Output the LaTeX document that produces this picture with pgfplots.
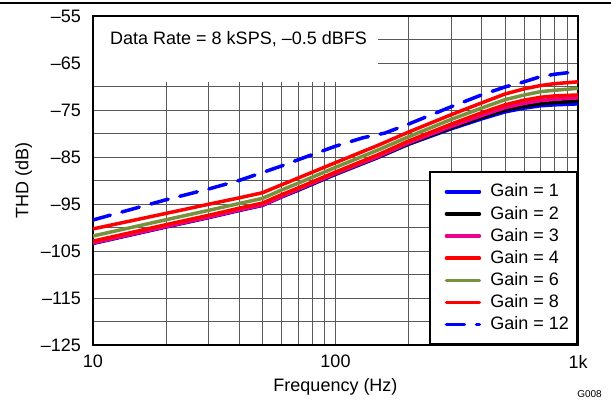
\documentclass[border=0pt]{standalone}
\usepackage{pgfplots}
\pgfplotsset{compat=1.18}
\usepackage{fontspec}
\setmainfont{Liberation Sans}
\definecolor{olivegreen}{RGB}{118,146,60}
\begin{document}
\fontsize{18bp}{21bp}\selectfont
\begin{tikzpicture}
\useasboundingbox (-93bp,-56bp) rectangle (518bp,345bp);
\begin{axis}[
  scale only axis, width=485bp, height=329bp,
  xmode=log, xmin=10, xmax=1000, ymin=-125, ymax=-55,
  xtick={10,100,1000}, xticklabels={10,100,1k},
  minor xtick={20,30,40,50,60,70,80,90,200,300,400,500,600,700,800,900},
  ytick={-125,-115,-105,-95,-85,-75,-65,-55},
  yticklabels={–125,–115,–105,–95,–85,–75,–65,–55},
  minor ytick={-120,-110,-100,-90,-80,-70,-60},
  grid=both,
  major grid style={black!65, line width=0.8bp},
  minor grid style={black!65, line width=0.8bp},
  major tick length=0pt, minor tick length=0pt,
  axis line style={line width=2.5bp},
  tick label style={font=\fontsize{18bp}{21bp}\selectfont},
  xticklabel style={inner sep=0pt, yshift=-10bp},
  yticklabel style={inner sep=0pt, xshift=-12bp},
  every axis plot/.append style={line width=3.5bp, line cap=round, line join=round},
  legend cell align=left,
  legend style={at={(rel axis cs:1,0)}, anchor=south east, draw=black, line width=2bp,
    fill=white, font=\fontsize{18bp}{21bp}\selectfont, row sep=6.4bp,
    inner xsep=8bp, inner ysep=11.5bp, nodes={inner sep=0pt}},
  legend image code/.code={\path[draw=none] (0bp,0bp) -- (52bp,0bp); \draw[#1] (8bp,0bp) -- (41bp,0bp);},
]
\addplot[blue] coordinates {(10,-103.4) (20,-99.9) (30,-97.9) (40,-96.4) (50,-95.3) (60,-93.5) (70,-92.1) (100,-88.7) (150,-85.1) (200,-82.3) (300,-79.0) (400,-76.9) (500,-75.4) (600,-74.6) (700,-74.1) (800,-73.9) (1000,-73.7)};
\addlegendentry{Gain = 1}
\addplot[black] coordinates {(10,-103.3) (20,-99.8) (30,-97.8) (40,-96.3) (50,-95.2) (60,-93.4) (70,-92.0) (100,-88.6) (150,-85.0) (200,-82.2) (300,-78.8) (400,-76.6) (500,-75.0) (600,-74.2) (700,-73.7) (800,-73.4) (1000,-73.1)};
\addlegendentry{Gain = 2}
\addplot[magenta] coordinates {(10,-103.3) (20,-99.8) (30,-97.8) (40,-96.3) (50,-95.2) (60,-93.4) (70,-91.9) (100,-88.5) (150,-84.9) (200,-82.0) (300,-78.5) (400,-76.2) (500,-74.5) (600,-73.6) (700,-73.0) (800,-72.7) (1000,-72.4)};
\addlegendentry{Gain = 3}
\addplot[red] coordinates {(10,-102.9) (20,-99.4) (30,-97.4) (40,-95.9) (50,-94.8) (60,-93.0) (70,-91.6) (100,-88.2) (150,-84.5) (200,-81.6) (300,-78.0) (400,-75.6) (500,-73.9) (600,-72.9) (700,-72.3) (800,-72.0) (1000,-71.8)};
\addlegendentry{Gain = 4}
\addplot[olivegreen] coordinates {(10,-101.8) (20,-98.35) (30,-96.35) (40,-94.9) (50,-93.8) (60,-92.0) (70,-90.6) (100,-87.2) (150,-83.5) (200,-80.7) (300,-77.0) (400,-74.6) (500,-72.8) (600,-71.8) (700,-71.1) (800,-70.8) (1000,-70.4)};
\addlegendentry{Gain = 6}
\addplot[red] coordinates {(10,-100.3) (20,-97.0) (30,-95.05) (40,-93.7) (50,-92.6) (60,-90.9) (70,-89.5) (100,-86.2) (150,-82.5) (200,-79.7) (300,-76.0) (400,-73.5) (500,-71.6) (600,-70.5) (700,-69.8) (800,-69.4) (1000,-69.0)};
\addlegendentry{Gain = 8}
\addplot[blue, dash pattern=on 18bp off 12bp] coordinates {(10,-98.4) (20,-94.1) (30,-91.8) (40,-90.0) (50,-88.3) (60,-86.9) (70,-85.6) (100,-82.7) (130,-80.9) (160,-79.9) (200,-78.0) (300,-74.3) (400,-71.8) (500,-70.1) (600,-69.0) (700,-67.9) (800,-67.4) (1000,-66.8)};
\addlegendentry{Gain = 12}
\end{axis}
\fill[white] (1.25bp,263bp) rectangle (285bp,327.75bp);
\node[anchor=base west, inner sep=0pt] at (17bp,300bp) {Data Rate = 8 kSPS, –0.5 dBFS};
\node[anchor=base, inner sep=0pt] at (242.5bp,-46.7bp) {Frequency (Hz)};
\node[anchor=base, inner sep=0pt, rotate=90] at (-64.5bp,164.5bp) {THD (dB)};
\node[anchor=base east, inner sep=0pt, font=\fontsize{10bp}{12bp}\selectfont] at (509bp,-52bp) {G008};
\draw[line width=1.3bp] (-93bp,342bp) -- (518bp,342bp);
\end{tikzpicture}
\end{document}
